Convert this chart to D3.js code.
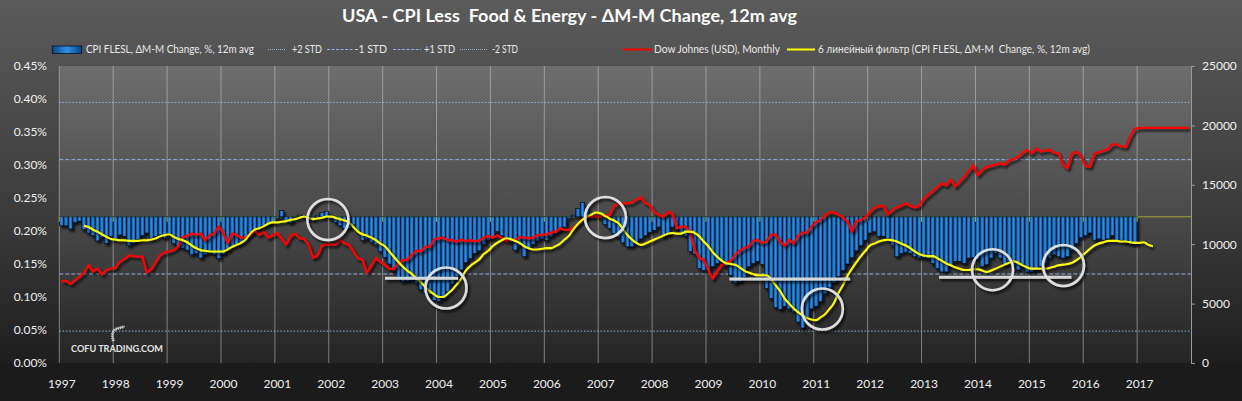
<!DOCTYPE html>
<html><head><meta charset="utf-8">
<script src="https://cdn.jsdelivr.net/npm/d3@7"></script>
<style>html,body{margin:0;padding:0;background:#1b1b1b;overflow:hidden}svg{display:block}text{white-space:pre}</style>
</head><body><svg id="c" width="1242" height="401"></svg>
<script>
// ---------------- DATA ----------------
const startYear = 1997;
const yearLabels = ["1997","1998","1999","2000","2001","2002","2003","2004","2005","2006","2007","2008","2009","2010","2011","2012","2013","2014","2015","2016","2017"];
const leftTicks = [0,0.05,0.10,0.15,0.20,0.25,0.30,0.35,0.40,0.45];
const rightTicks = [0,5000,10000,15000,20000,25000];
const title = "USA - CPI Less  Food & Energy - \u0394M-M Change, 12m avg";
const seriesNames = ["CPI FLESL, \u0394M-M Change, %, 12m avg","+2 STD","-1 STD","+1 STD","-2 STD","Dow Johnes (USD), Monthly","6 линейный фильтр (CPI FLESL, \u0394M-M  Change, %, 12m avg)"];

// CPI less food & energy, M-M change %, 12m avg, monthly from Jan 1997
const cpi = [
0.208,0.208,0.203,0.213,0.215,0.202,0.197,0.193,0.185,0.190,0.181,0.192,
0.188,0.194,0.192,0.178,0.181,0.187,0.193,0.197,0.189,0.192,0.194,0.189,
0.196,0.181,0.176,0.174,0.171,0.164,0.166,0.159,0.164,0.169,0.164,0.158,
0.165,0.171,0.177,0.179,0.182,0.189,0.197,0.202,0.204,0.207,0.210,0.213,
0.219,0.231,0.216,0.212,0.220,0.224,0.223,0.220,0.218,0.224,0.228,0.230,
0.218,0.213,0.208,0.204,0.204,0.209,0.199,0.186,0.188,0.183,0.179,0.169,
0.160,0.150,0.140,0.130,0.123,0.124,0.125,0.121,0.111,0.106,0.104,0.095,
0.093,0.098,0.108,0.120,0.131,0.141,0.152,0.158,0.166,0.170,0.180,0.186,
0.191,0.199,0.193,0.190,0.183,0.171,0.178,0.161,0.175,0.180,0.185,0.188,
0.186,0.191,0.196,0.201,0.206,0.219,0.224,0.234,0.243,0.232,0.224,0.222,
0.220,0.210,0.204,0.196,0.190,0.182,0.176,0.176,0.181,0.188,0.193,0.198,
0.201,0.206,0.191,0.194,0.206,0.202,0.197,0.192,0.169,0.165,0.143,0.140,
0.140,0.146,0.151,0.154,0.146,0.133,0.121,0.123,0.130,0.146,0.151,0.154,
0.149,0.113,0.098,0.084,0.081,0.086,0.082,0.078,0.062,0.053,0.068,0.082,
0.086,0.093,0.105,0.114,0.122,0.131,0.140,0.150,0.160,0.170,0.178,0.186,
0.197,0.199,0.192,0.192,0.189,0.178,0.161,0.166,0.168,0.166,0.161,0.159,
0.159,0.158,0.151,0.143,0.138,0.138,0.148,0.154,0.154,0.151,0.159,0.160,
0.157,0.146,0.149,0.159,0.166,0.159,0.149,0.154,0.146,0.141,0.149,0.138,
0.138,0.141,0.146,0.151,0.159,0.164,0.161,0.159,0.161,0.171,0.181,0.190,
0.193,0.197,0.186,0.188,0.186,0.188,0.193,0.186,0.186,0.183,0.181,0.180];

// 6-line filter of the CPI series, monthly from Jun 1997 (month index 5)
const filterStart = 5;
const filt = [
0.208,0.206,0.202,0.199,0.195,0.191,0.188,0.187,0.186,0.186,0.185,0.185,
0.185,0.186,0.186,0.187,0.189,0.192,0.194,0.195,0.191,0.188,0.186,0.183,
0.178,0.174,0.171,0.170,0.169,0.169,0.169,0.169,0.172,0.176,0.179,0.182,
0.187,0.196,0.202,0.204,0.207,0.211,0.213,0.213,0.214,0.215,0.217,0.218,
0.220,0.222,0.220,0.218,0.219,0.220,0.222,0.222,0.220,0.218,0.216,0.213,
0.206,0.199,0.195,0.193,0.190,0.186,0.181,0.177,0.169,0.161,0.153,0.146,
0.140,0.135,0.128,0.123,0.115,0.109,0.104,0.100,0.100,0.105,0.111,0.119,
0.128,0.140,0.147,0.152,0.157,0.165,0.170,0.177,0.182,0.186,0.189,0.188,
0.185,0.182,0.177,0.174,0.172,0.172,0.173,0.174,0.174,0.177,0.181,0.187,
0.193,0.203,0.211,0.217,0.222,0.225,0.228,0.227,0.223,0.219,0.216,0.212,
0.203,0.194,0.187,0.182,0.179,0.181,0.184,0.187,0.190,0.193,0.196,0.197,
0.196,0.196,0.199,0.199,0.197,0.192,0.184,0.177,0.168,0.161,0.155,0.151,
0.150,0.149,0.145,0.140,0.137,0.135,0.133,0.133,0.133,0.127,0.118,0.109,
0.098,0.090,0.083,0.077,0.072,0.068,0.066,0.065,0.069,0.074,0.082,0.091,
0.106,0.118,0.132,0.143,0.153,0.162,0.170,0.178,0.181,0.184,0.186,0.187,
0.186,0.184,0.181,0.178,0.174,0.169,0.165,0.163,0.162,0.162,0.159,0.155,
0.151,0.148,0.145,0.143,0.141,0.141,0.142,0.142,0.140,0.138,0.140,0.143,
0.146,0.149,0.152,0.154,0.152,0.148,0.145,0.143,0.143,0.143,0.143,0.144,
0.146,0.148,0.149,0.150,0.152,0.156,0.161,0.167,0.173,0.178,0.181,0.183,
0.185,0.185,0.185,0.184,0.184,0.183,0.182,0.182,0.183,0.179,0.177];

// Dow Jones (USD), monthly from Jan 1997
const dow = [
6860,6920,6650,6950,7250,7600,8250,7700,7950,7470,7830,7950,
8000,8550,8750,9050,9000,8950,8950,7600,7900,8500,9100,9300,
9400,9500,9800,10600,10700,10900,10800,10900,10350,10750,10900,11500,
10950,10100,10900,10800,10550,10550,10800,11150,10800,11050,10550,10750,
10950,10500,9950,10700,10900,10500,10450,9950,8850,9050,9900,10000,
9980,9950,10400,10050,9950,9400,8800,8700,7600,8200,8850,8500,
8250,7950,7900,8450,8650,8700,9100,9450,9400,9780,9800,10400,
10500,10550,10350,10350,10200,10400,10250,10350,10250,10300,10550,10700,
10550,10750,10550,10250,10420,10350,10600,10550,10500,10550,10780,10780,
10850,10980,11050,11330,11200,11200,11400,11700,12100,12250,12330,12370,
12350,12400,12450,13200,13450,13450,13440,13500,13750,13950,13450,13300,
12700,12450,12320,12700,12600,11340,11470,11470,11000,9450,8850,8700,
7850,7100,7700,8250,8400,8600,9100,9450,9680,9800,10300,10350,
10100,10250,10800,10800,10200,9900,10350,10080,10700,11000,10950,11500,
11850,12040,12400,12700,12650,12500,12250,11900,11050,11950,12050,12250,
12700,13050,13200,13220,12500,12850,13100,13250,13450,13220,13100,13250,
13800,14150,14450,14800,15120,14950,15450,14850,15250,15650,16150,16650,
15800,16250,16500,16600,16700,16800,16700,17050,17150,17350,17700,17930,
17650,18050,17800,17900,17950,17700,17650,16700,16400,17650,17780,17450,
16580,16530,17650,17760,17850,18000,18400,18410,18220,18200,19100,19700,
19800,19800,19800,19800,19800,19800,19800,19800,19800,19800,19800,19800];

const cpiMean = 0.2215;
const cpiStd = 0.0866;
const stdMultipliers = [2, -1, 1, -2];

// annotations: [monthIndex, cpi value]
const annCircles = [[59.8,0.2174],[86.1,0.1136],[121.6,0.2205],[169.9,0.0818],[207.8,0.1414],[223.6,0.1477]];
// annotations: [fromMonth, toMonth, cpi value]
const annLines = [[72.5,88.8,0.1283],[149.2,176.1,0.1273],[195.9,225.4,0.1298]];

// ---------------- LAYOUT ----------------
const W = 1242, H = 401;
const plot = {l: 59.3, r: 1191, t: 66, b: 363};
const FONT = "Lato, 'Open Sans', sans-serif";
const nMonths = yearLabels.length * 12;

const svg = d3.select("#c");
const defs = svg.append("defs");

function vgrad(id, stops, x1=0,y1=0,x2=0,y2=1) {
  const g = defs.append("linearGradient").attr("id", id)
    .attr("x1",x1).attr("y1",y1).attr("x2",x2).attr("y2",y2);
  stops.forEach(([o,c]) => g.append("stop").attr("offset",o).attr("stop-color",c));
}
vgrad("bgG", [[0,"#5b5b5b"],[0.55,"#3a3a3a"],[1,"#161616"]]);
vgrad("plotG", [[0,"#6e6e6e"],[0.5,"#4a4a4a"],[1,"#242424"]]);
vgrad("barG", [[0,"#0b4585"],[0.5,"#2e8fe6"],[1,"#0b4585"]], 0,0,1,0);
const f = defs.append("filter").attr("id","sh").attr("x","-20%").attr("y","-20%").attr("width","140%").attr("height","160%");
f.append("feDropShadow").attr("dx",2).attr("dy",2.5).attr("stdDeviation",1.3).attr("flood-color","#000").attr("flood-opacity",0.75);

svg.append("rect").attr("width",W).attr("height",H).attr("fill","url(#bgG)");
svg.append("rect").attr("x",0).attr("y",plot.b).attr("width",W).attr("height",H-plot.b).attr("fill","#1b1b1b");
svg.append("rect").attr("x",plot.l).attr("y",plot.t).attr("width",plot.r-plot.l).attr("height",plot.b-plot.t).attr("fill","url(#plotG)");

const x = d3.scaleLinear().domain([0, nMonths]).range([plot.l, plot.r]);
const yL = d3.scaleLinear().domain([0, 0.45]).range([plot.b, plot.t]);
const yR = d3.scaleLinear().domain([0, 25000]).range([plot.b, plot.t]);

// vertical gridlines at years
svg.append("g").selectAll("line").data(d3.range(yearLabels.length)).join("line")
  .attr("x1", d => x(d*12)).attr("x2", d => x(d*12))
  .attr("y1", plot.t).attr("y2", plot.b)
  .attr("stroke", "rgba(200,200,200,0.55)").attr("stroke-width", 1);

// std lines
const stdStyle = {2:"1.5,1.8", "-2":"1.5,1.8", 1:"4,2", "-1":"4,2"};
svg.append("g").selectAll("line").data(stdMultipliers).join("line")
  .attr("x1", plot.l).attr("x2", plot.r)
  .attr("y1", d => yL(cpiMean + d*cpiStd)).attr("y2", d => yL(cpiMean + d*cpiStd))
  .attr("stroke", "#8fb4e8").attr("stroke-width", 1)
  .attr("stroke-dasharray", d => stdStyle[d]);

// mean line
svg.append("line").attr("x1", plot.l).attr("x2", plot.r)
  .attr("y1", yL(cpiMean)).attr("y2", yL(cpiMean))
  .attr("stroke", "#a3a33a").attr("stroke-width", 1);

// bars relative to mean
const bw = x(1) - x(0);
svg.append("g").attr("filter","url(#sh)").selectAll("rect").data(cpi).join("rect")
  .attr("x", (d,i) => x(i)).attr("width", bw)
  .attr("y", d => Math.min(yL(d), yL(cpiMean)))
  .attr("height", d => Math.abs(yL(d) - yL(cpiMean)))
  .attr("fill", "url(#barG)").attr("stroke", "#06101e").attr("stroke-width", 0.7);

// small year ticks on baseline
svg.append("g").selectAll("line").data(d3.range(yearLabels.length)).join("line")
  .attr("x1", d => x(d*12)).attr("x2", d => x(d*12))
  .attr("y1", yL(cpiMean)).attr("y2", yL(cpiMean)+5)
  .attr("stroke", "#b0b040").attr("stroke-width", 1);

// Dow line
const dowLine = d3.line().x((d,i) => x(i+0.5)).y(d => yR(d));
svg.append("path").datum(dow).attr("d", dowLine)
  .attr("fill","none").attr("stroke","#ff0000").attr("stroke-width",2.3)
  .attr("stroke-linejoin","round").attr("filter","url(#sh)");

// filter line
const fLine = d3.line().x((d,i) => x(filterStart + i + 0.5)).y(d => yL(d)).curve(d3.curveMonotoneX);
svg.append("path").datum(filt).attr("d", fLine)
  .attr("fill","none").attr("stroke","#ffff00").attr("stroke-width",2.1)
  .attr("stroke-linejoin","round").attr("filter","url(#sh)");

// annotations
const ann = svg.append("g").attr("filter","url(#sh)");
ann.selectAll("line").data(annLines).join("line")
  .attr("x1", d => x(d[0])).attr("x2", d => x(d[1]))
  .attr("y1", d => yL(d[2])).attr("y2", d => yL(d[2]))
  .attr("stroke", "#d6d6d6").attr("stroke-width", 3);
ann.selectAll("circle").data(annCircles).join("circle")
  .attr("cx", d => x(d[0])).attr("cy", d => yL(d[1])).attr("r", 20.5)
  .attr("fill","none").attr("stroke","#dedede").attr("stroke-width",2.6);

// axes
const axL = svg.append("g");
axL.selectAll("text").data(leftTicks).join("text")
  .attr("x", 47).attr("y", d => yL(d)).attr("dy","0.36em")
  .attr("text-anchor","end").attr("font-family",FONT).attr("font-size",12)
  .attr("fill","#f0f0f0").text(d => d3.format(".2f")(d) + "%");

const axR = svg.append("g").attr("transform", `translate(${plot.r},0)`)
  .call(d3.axisRight(yR).tickValues(rightTicks).tickSize(4).tickPadding(7).tickFormat(d3.format("d")));
axR.select(".domain").attr("stroke","#9a9a9a");
axR.selectAll(".tick line").attr("stroke","#9a9a9a");
axR.selectAll("text").attr("fill","#f0f0f0").attr("font-family",FONT).attr("font-size",12);

svg.append("g").selectAll("text").data(yearLabels).join("text")
  .attr("x", (d,i) => x(i*12) + 2.5).attr("y", 387.5)
  .attr("text-anchor","middle").attr("font-family",FONT).attr("font-size",12)
  .attr("fill","#f0f0f0").text(d => d);

// title
function fit(sel, w) {
  const n = sel.node(); const cur = n.getComputedTextLength();
  if (Math.abs(cur - w) > 1) sel.attr("textLength", w).attr("lengthAdjust","spacingAndGlyphs");
  return sel;
}
fit(svg.append("text").attr("x", 342).attr("y", 21.5).attr("font-family",FONT).attr("font-weight","bold")
  .attr("font-size",16.5).attr("fill","#ffffff").text(title), 455);

// legend
const legend = [
  {type:"bar", s0:52.3, s1:81.7, t0:86, t1:254},
  {type:"dot", s0:268, s1:285, t0:292, t1:322},
  {type:"dash", s0:327, s1:353, t0:354.5, t1:387},
  {type:"dash", s0:393, s1:421, t0:424, t1:455},
  {type:"dot", s0:460, s1:487, t0:492, t1:518},
  {type:"red", s0:623, s1:652, t0:654, t1:780},
  {type:"yel", s0:787, s1:815, t0:818, t1:1090}
];
const lg = svg.append("g");
const ly = 49.5;
legend.forEach((it, i) => {
  if (it.type === "bar") {
    lg.append("rect").attr("x", it.s0).attr("y", ly-3.5).attr("width", it.s1-it.s0).attr("height", 7.5)
      .attr("fill","url(#barG)").attr("stroke","#06101e").attr("stroke-width",0.8);
  } else {
    const col = it.type==="red" ? "#ff0000" : it.type==="yel" ? "#ffff00" : "#8fb4e8";
    lg.append("line").attr("x1", it.s0).attr("x2", it.s1).attr("y1", ly).attr("y2", ly)
      .attr("stroke", col).attr("stroke-width", (it.type==="red"||it.type==="yel") ? 2 : 1)
      .attr("stroke-dasharray", it.type==="dot" ? "1,1" : it.type==="dash" ? "3,1.5" : null);
  }
  fit(lg.append("text").attr("x", it.t0).attr("y", ly+3.9).attr("font-family",FONT).attr("font-size",11)
    .attr("fill","#e8e8e8").text(seriesNames[i]), it.t1 - it.t0);
});

// watermark
fit(svg.append("text").attr("x",71).attr("y",351.8).attr("font-family",FONT).attr("font-weight","bold")
  .attr("font-size",9).attr("fill","#e4e4e4").text("COFU TRADING.COM"), 92);
const wheat = svg.append("g").attr("fill","none").attr("stroke","#cfcfcf");
wheat.append("path").attr("d","M113.5,341 C111.5,336 112,331 116,329 C118.5,328 121.5,327.5 124.5,326.5")
  .attr("stroke-width",1);
wheat.append("path").attr("d","M113.5,341 C111.5,336 112,331 116,329 C118.5,328 121.5,327.5 124.5,326.5")
  .attr("stroke-width",3).attr("stroke-dasharray","1.2,1");
</script></body></html>
